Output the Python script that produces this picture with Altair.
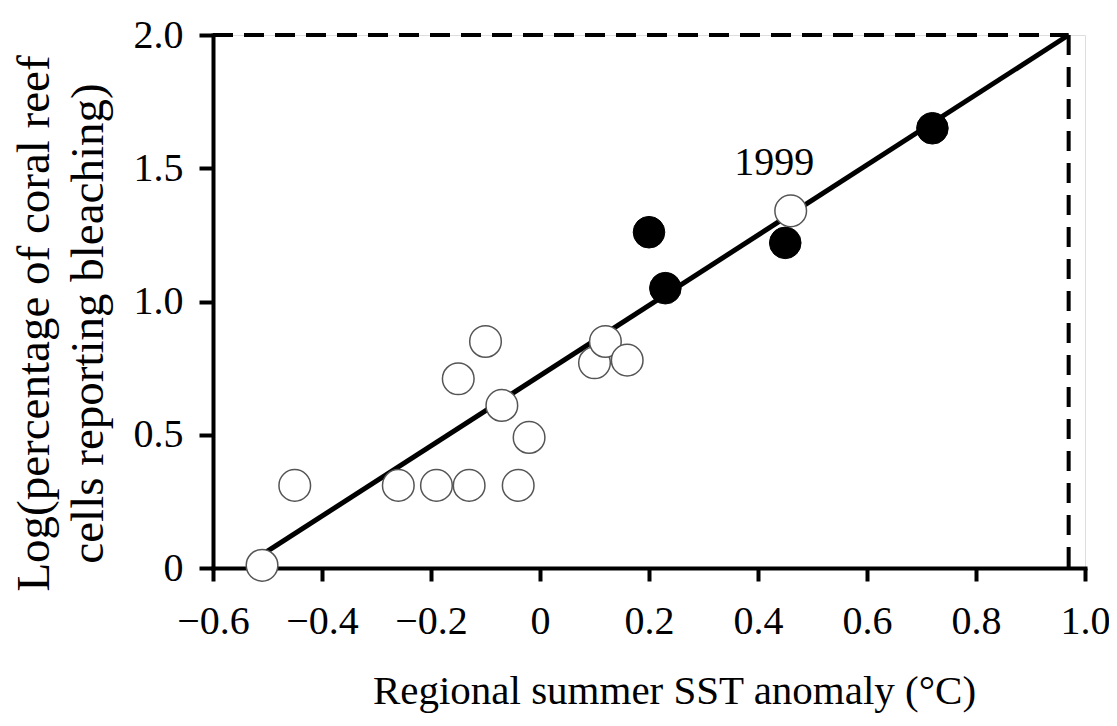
import altair as alt
import pandas as pd

# Open circles (years)
open_x = [-0.51, -0.45, -0.26, -0.19, -0.13, -0.04, -0.15, -0.10, -0.07, -0.02, 0.10, 0.12, 0.16, 0.46]
open_y = [0.01, 0.31, 0.31, 0.31, 0.31, 0.31, 0.71, 0.85, 0.61, 0.49, 0.77, 0.85, 0.78, 1.34]
# Filled circles
filled_x = [0.20, 0.23, 0.45, 0.72]
filled_y = [1.26, 1.05, 1.22, 1.65]
# Regression line end points
fit_x = [-0.51, 0.97]
fit_y = [0.05, 2.00]
# Dashed bounding lines
dash_top_x = [-0.6, 0.97]
dash_top_y = [2.0, 2.0]
dash_right_x = [0.97, 0.97]
dash_right_y = [0.0, 2.0]
# Annotation
note_text = ["1999"]
note_x = [0.43]
note_y = [1.52]

x_ticks = [-0.6, -0.4, -0.2, 0.0, 0.2, 0.4, 0.6, 0.8, 1.0]
y_ticks = [0.0, 0.5, 1.0, 1.5, 2.0]

FONT = "Liberation Serif"

xscale = alt.Scale(domain=[-0.6, 1.0], nice=False, zero=False)
yscale = alt.Scale(domain=[0, 2.0], nice=False, zero=False)

label_expr = "datum.value == 0 ? '0' : replace(format(datum.value, '.1f'), '-', '\u2212')"

xaxis = alt.Axis(
    values=x_ticks, labelExpr=label_expr, grid=False,
    domainColor="black", domainWidth=4, domainCap="square",
    tickColor="black", tickWidth=4, tickSize=13,
    labelFont=FONT, labelFontSize=40, labelColor="black", labelPadding=20,
    labelFlush=False, labelOverlap=False,
    title="Regional summer SST anomaly (\u00b0C)",
    titleFont=FONT, titleFontSize=41, titleFontWeight="normal", titleColor="black",
    titleX=461, titleY=135, titleBaseline="alphabetic", titleAnchor="middle",
)
yaxis = alt.Axis(
    values=y_ticks, labelExpr=label_expr, grid=False,
    domainColor="black", domainWidth=4, domainCap="square",
    tickColor="black", tickWidth=4, tickSize=14,
    labelFont=FONT, labelFontSize=40, labelColor="black", labelPadding=16,
    labelFlush=False, labelOverlap=False,
    title=["Log(percentage of coral reef", "cells reporting bleaching)"],
    titleFont=FONT, titleFontSize=47, titleFontWeight="normal", titleColor="black",
    titleLineHeight=54, titleAngle=-90, titleX=-179, titleY=288,
    titleBaseline="middle", titleAlign="center",
)

fit_df = pd.DataFrame({"x": fit_x, "y": fit_y})
top_df = pd.DataFrame({"x": dash_top_x, "y": dash_top_y})
right_df = pd.DataFrame({"x": dash_right_x, "y": dash_right_y})
open_df = pd.DataFrame({"x": open_x, "y": open_y})
filled_df = pd.DataFrame({"x": filled_x, "y": filled_y})
note_df = pd.DataFrame({"x": note_x, "y": note_y, "t": note_text})

base_x = alt.X("x:Q", scale=xscale, axis=xaxis)
base_y = alt.Y("y:Q", scale=yscale, axis=yaxis)

fit = alt.Chart(fit_df).mark_line(color="black", strokeWidth=5).encode(x=base_x, y=base_y)
top = alt.Chart(top_df).mark_line(color="black", strokeWidth=4, strokeDash=[20, 11]).encode(
    x=alt.X("x:Q", scale=xscale), y=alt.Y("y:Q", scale=yscale))
right = alt.Chart(right_df).mark_line(color="black", strokeWidth=4, strokeDash=[20, 12]).encode(
    x=alt.X("x:Q", scale=xscale), y=alt.Y("y:Q", scale=yscale), order=alt.Order("y:Q", sort="descending"))
filled = alt.Chart(filled_df).mark_point(
    shape="circle", filled=True, fill="black", stroke="black", strokeWidth=1, size=1000, opacity=1
).encode(x=alt.X("x:Q", scale=xscale), y=alt.Y("y:Q", scale=yscale))
opened = alt.Chart(open_df).mark_point(
    shape="circle", filled=True, fill="white", stroke="#555555", strokeWidth=1.5, size=1000, opacity=1
).encode(x=alt.X("x:Q", scale=xscale), y=alt.Y("y:Q", scale=yscale))
note = alt.Chart(note_df).mark_text(
    font=FONT, fontSize=40, color="black", align="center", baseline="middle"
).encode(x=alt.X("x:Q", scale=xscale), y=alt.Y("y:Q", scale=yscale), text="t:N")

chart = alt.layer(fit, top, right, filled, opened, note).properties(
    width=872, height=533,
    autosize=alt.AutoSizeParams(type="none"),
    padding={"left": 205, "top": 27, "right": 24, "bottom": 150},
).configure_view(stroke=None).configure(background="white")

chart.save("out.html", embed_options={"renderer": "svg", "actions": False})
